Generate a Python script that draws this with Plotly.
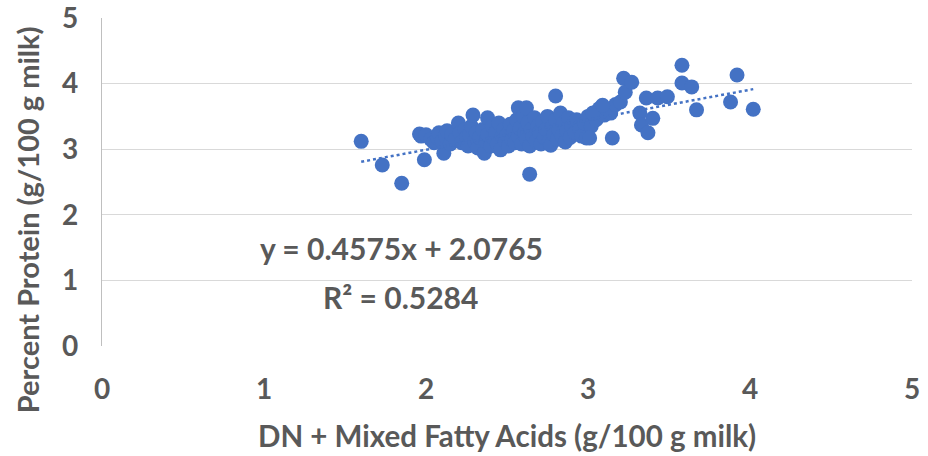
import plotly.graph_objects as go

# DN + Mixed fatty acids (g/100 g milk)
x_vals = [
    1.60, 1.73, 1.85, 1.99, 1.96, 2.11, 2.64, 2.80,
    1.97, 2.00, 2.03, 2.05, 2.07, 2.08, 2.10, 2.12, 2.13, 2.15, 2.16, 2.18,
    2.20, 2.21, 2.22, 2.24, 2.25, 2.26, 2.27, 2.28, 2.29, 2.30, 2.31,
    2.32, 2.33, 2.35, 2.36, 2.37, 2.38, 2.38, 2.40, 2.41, 2.42, 2.43, 2.44,
    2.45, 2.46, 2.47, 2.48, 2.49, 2.50, 2.51, 2.52, 2.53, 2.54, 2.55, 2.56,
    2.57, 2.57, 2.58, 2.59, 2.60, 2.61, 2.62, 2.62, 2.63, 2.64, 2.65, 2.66,
    2.67, 2.68, 2.69, 2.70, 2.71, 2.72, 2.73, 2.74, 2.75, 2.76, 2.77, 2.78,
    2.79, 2.80, 2.81, 2.82, 2.83, 2.84, 2.85, 2.86, 2.87, 2.88, 2.89, 2.90,
    2.92, 2.93, 2.95, 2.96, 2.98, 2.99, 3.00, 3.02, 3.05, 3.07, 3.10, 3.12,
    3.14, 3.17, 3.20,
    3.01, 3.03, 3.09, 3.15, 3.22, 3.23, 3.27, 3.32, 3.33, 3.36, 3.37, 3.40,
    3.43, 3.49, 3.58, 3.58, 3.64, 3.67, 3.88, 3.92, 4.02,
]
# Percent protein (g/100 g milk)
y_vals = [
    3.12, 2.76, 2.48, 2.84, 3.23, 2.94, 2.62, 3.81,
    3.20, 3.22, 3.15, 3.10, 3.18, 3.25, 3.12, 3.20, 3.28, 3.08, 3.22, 3.15,
    3.40, 3.25, 3.10, 3.30, 3.18, 3.05, 3.22, 3.35, 3.52, 3.12, 3.25,
    3.02, 3.18, 3.30, 2.94, 3.12, 3.48, 3.22, 3.05, 3.35, 3.15, 3.25, 3.08,
    3.40, 2.99, 3.20, 3.30, 3.12, 3.22, 3.05, 3.38, 3.15, 3.28, 3.10, 3.45,
    3.63, 3.20, 3.32, 3.08, 3.50, 3.25, 3.63, 3.15, 3.40, 3.05, 3.30, 3.20,
    3.48, 3.12, 3.35, 3.25, 3.08, 3.42, 3.18, 3.30, 3.50, 3.12, 3.06, 3.35,
    3.22, 3.45, 3.15, 3.30, 3.55, 3.20, 3.40, 3.11, 3.28, 3.48, 3.18, 3.35,
    3.25, 3.45, 3.30, 3.20, 3.40, 3.17, 3.50, 3.35, 3.45, 3.62, 3.52, 3.60,
    3.55, 3.68, 3.72,
    3.17, 3.55, 3.67, 3.17, 4.08, 3.87, 4.02, 3.55, 3.37, 3.78, 3.25, 3.47,
    3.78, 3.80, 4.28, 4.01, 3.95, 3.60, 3.72, 4.13, 3.61,
]

# Linear trendline coefficients (as printed on the chart)
slope = 0.4575
intercept = 2.0765
r_squared = 0.5284

x_ticks = [0, 1, 2, 3, 4, 5]
y_ticks = [0, 1, 2, 3, 4, 5]

x_title = "DN + Mixed Fatty Acids (g/100 g milk)"
y_title = "Percent Protein (g/100 g milk)"

blue = "#4472C4"
gray_text = "#595959"
font_family = "Lato, 'Open Sans', sans-serif"

trend_x = [min(x_vals), max(x_vals)]
trend_y = [slope * v + intercept for v in trend_x]

fig = go.Figure()
fig.add_trace(go.Scatter(
    x=x_vals, y=y_vals, mode="markers",
    marker=dict(size=15, color=blue, line=dict(width=0)),
    showlegend=False, cliponaxis=False,
))
fig.add_trace(go.Scatter(
    x=trend_x, y=trend_y, mode="lines",
    line=dict(color=blue, width=2.5, dash="dot"),
    showlegend=False,
))

fig.add_annotation(
    x=1.85, y=1.49, xref="x", yref="y",
    text=f"<b>y = {slope}x + {intercept}</b>", showarrow=False,
    font=dict(family=font_family, size=30, color=gray_text),
)
fig.add_annotation(
    x=1.84, y=0.745, xref="x", yref="y",
    text=f"<b>R² = {r_squared}</b>", showarrow=False,
    font=dict(family=font_family, size=30, color=gray_text),
)
# axis titles
fig.add_annotation(
    x=0.5, y=-0.274, xref="paper", yref="paper",
    xanchor="center", yanchor="middle",
    text=f"<b>{x_title}</b>", showarrow=False,
    font=dict(family=font_family, size=29.5, color=gray_text),
)
fig.add_annotation(
    x=-0.092, y=0.385, xref="paper", yref="paper",
    xanchor="center", yanchor="middle", textangle=-90,
    text=f"<b>{y_title}</b>", showarrow=False,
    font=dict(family=font_family, size=29, color=gray_text),
)

fig.update_layout(
    width=928, height=456,
    margin=dict(l=102, r=16, t=18, b=110, autoexpand=False),
    paper_bgcolor="white", plot_bgcolor="white",
    font=dict(family=font_family, color=gray_text),
)
fig.update_xaxes(
    range=[0, 5], tickvals=x_ticks, ticktext=[f"<b>{t}</b>" for t in x_ticks],
    showgrid=False, zeroline=False, showline=False,
    automargin=False, ticklabeloverflow="allow",
    tickfont=dict(size=28, color=gray_text),
    ticklabelstandoff=24,
)
fig.update_yaxes(
    range=[0, 5], tickvals=y_ticks, ticktext=[f"<b>{t}</b>" for t in y_ticks],
    showgrid=True, gridcolor="#D9D9D9", gridwidth=1.3,
    zeroline=False,
    showline=True, linecolor="#BFBFBF", linewidth=1.3,
    automargin=False, ticklabeloverflow="allow",
    tickfont=dict(size=28, color=gray_text),
    ticklabelstandoff=17,
)

fig.write_html(
    "out.html",
    config={"displayModeBar": False},
    post_script="document.body.style.margin='0';document.body.style.overflow='hidden';",
)
